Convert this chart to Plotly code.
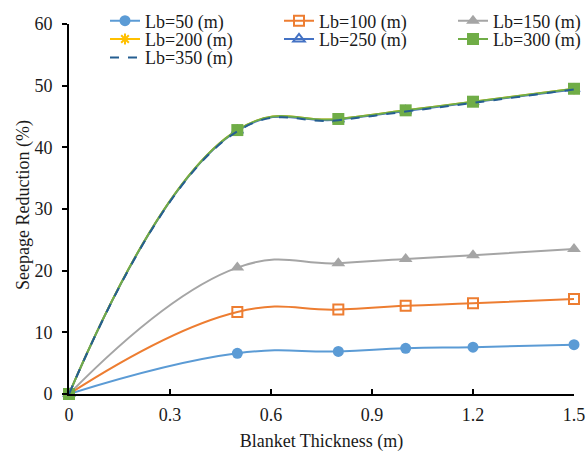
import plotly.graph_objects as go

thickness = [0, 0.5, 0.8, 1.0, 1.2, 1.5]
lb50 = [0, 6.6, 6.9, 7.4, 7.6, 8.0]
lb100 = [0, 13.3, 13.7, 14.3, 14.7, 15.4]
lb150 = [0, 20.5, 21.2, 21.9, 22.5, 23.5]
lb200 = [0, 42.8, 44.6, 46.0, 47.4, 49.5]
lb250 = [0, 42.7, 44.5, 45.9, 47.3, 49.4]
lb300 = [0, 42.8, 44.6, 46.0, 47.4, 49.5]
lb350 = [0, 42.6, 44.4, 45.8, 47.2, 49.4]

series = [
    ("Lb=50 (m)", lb50, "#5B9BD5", dict(symbol="circle", size=11, color="#5B9BD5"), "solid", "legend"),
    ("Lb=100 (m)", lb100, "#ED7D31", dict(symbol="square-open", size=10, color="#ED7D31", line=dict(width=2)), "solid", "legend2"),
    ("Lb=150 (m)", lb150, "#A5A5A5", dict(symbol="triangle-up", size=12, color="#A5A5A5"), "solid", "legend3"),
    ("Lb=200 (m)", lb200, "#FFC000", dict(symbol="asterisk-open", size=9, color="#FFC000", line=dict(width=2, color="#FFC000")), "solid", "legend4"),
    ("Lb=250 (m)", lb250, "#4472C4", dict(symbol="triangle-up-open", size=10, color="#4472C4", line=dict(width=2)), "solid", "legend5"),
    ("Lb=300 (m)", lb300, "#70AD47", dict(symbol="square", size=12, color="#70AD47"), "solid", "legend6"),
    ("Lb=350 (m)", lb350, "#255E91", None, "dash", "legend7"),
]

fig = go.Figure()
for name, vals, col, mk, dash, lg in series:
    fig.add_trace(go.Scatter(
        x=thickness, y=vals, name=name, legend=lg,
        mode="lines+markers" if mk else "lines",
        line=dict(color=col, width=2, shape="spline", smoothing=1.3, dash=dash),
        marker=mk, cliponaxis=False,
    ))

font = "Liberation Serif"
txt = "#1a1a1a"
W, H = 586, 452
ML, MR, MT, MB = 69, 12, 24, 58
PW, PH = W - ML - MR, H - MT - MB
# legend positions (pixels): column starts / row centers
col_x = [105, 279, 453]
row_y = [21.0, 39.3, 57.7]
slots = [(0, 0), (1, 0), (2, 0), (0, 1), (1, 1), (2, 1), (0, 2)]
legend_layout = {}
for i, (c, r) in enumerate(slots):
    key = "legend" if i == 0 else f"legend{i+1}"
    legend_layout[key] = dict(
        xref="paper", yref="paper",
        x=(col_x[c] - ML) / PW, y=(H - MB - row_y[r]) / PH,
        xanchor="left", yanchor="middle",
        bgcolor="rgba(0,0,0,0)", font=dict(family=font, size=18, color=txt),
        itemwidth=30,
    )

fig.update_layout(
    width=W, height=H,
    margin=dict(l=ML, r=MR, t=MT, b=MB, autoexpand=False),
    plot_bgcolor="white", paper_bgcolor="white",
    font=dict(family=font, size=18, color=txt),
    showlegend=True,
    **legend_layout,
    xaxis=dict(
        range=[0, 1.5], tickvals=[0, 0.3, 0.6, 0.9, 1.2, 1.5],
        ticktext=["0", "0.3", "0.6", "0.9", "1.2", "1.5"],
        showline=True, linecolor="black", linewidth=2,
        ticks="inside", ticklen=5, tickwidth=1.5, tickcolor="black",
        showgrid=False, zeroline=False, automargin=False,
        tickfont=dict(size=18), ticklabelstandoff=3,
        title=dict(text="Blanket Thickness (m)", font=dict(size=18), standoff=13),
    ),
    yaxis=dict(
        range=[0, 60], tickvals=[0, 10, 20, 30, 40, 50, 60],
        showline=True, linecolor="black", linewidth=2,
        ticks="outside", ticklen=5, tickwidth=1.5, tickcolor="black",
        showgrid=False, zeroline=False, automargin=False,
        tickfont=dict(size=18), ticklabelstandoff=6,
    ),
    annotations=[dict(
        text="Seepage Reduction (%)", textangle=-90, showarrow=False,
        xref="paper", yref="paper", x=(23 - ML) / PW, y=(H - MB - 205) / PH,
        xanchor="center", yanchor="middle", font=dict(family=font, size=18, color=txt),
    )],
)

fig.write_html("out.html", config={"displayModeBar": False},
               post_script="document.body.style.margin='0';")
